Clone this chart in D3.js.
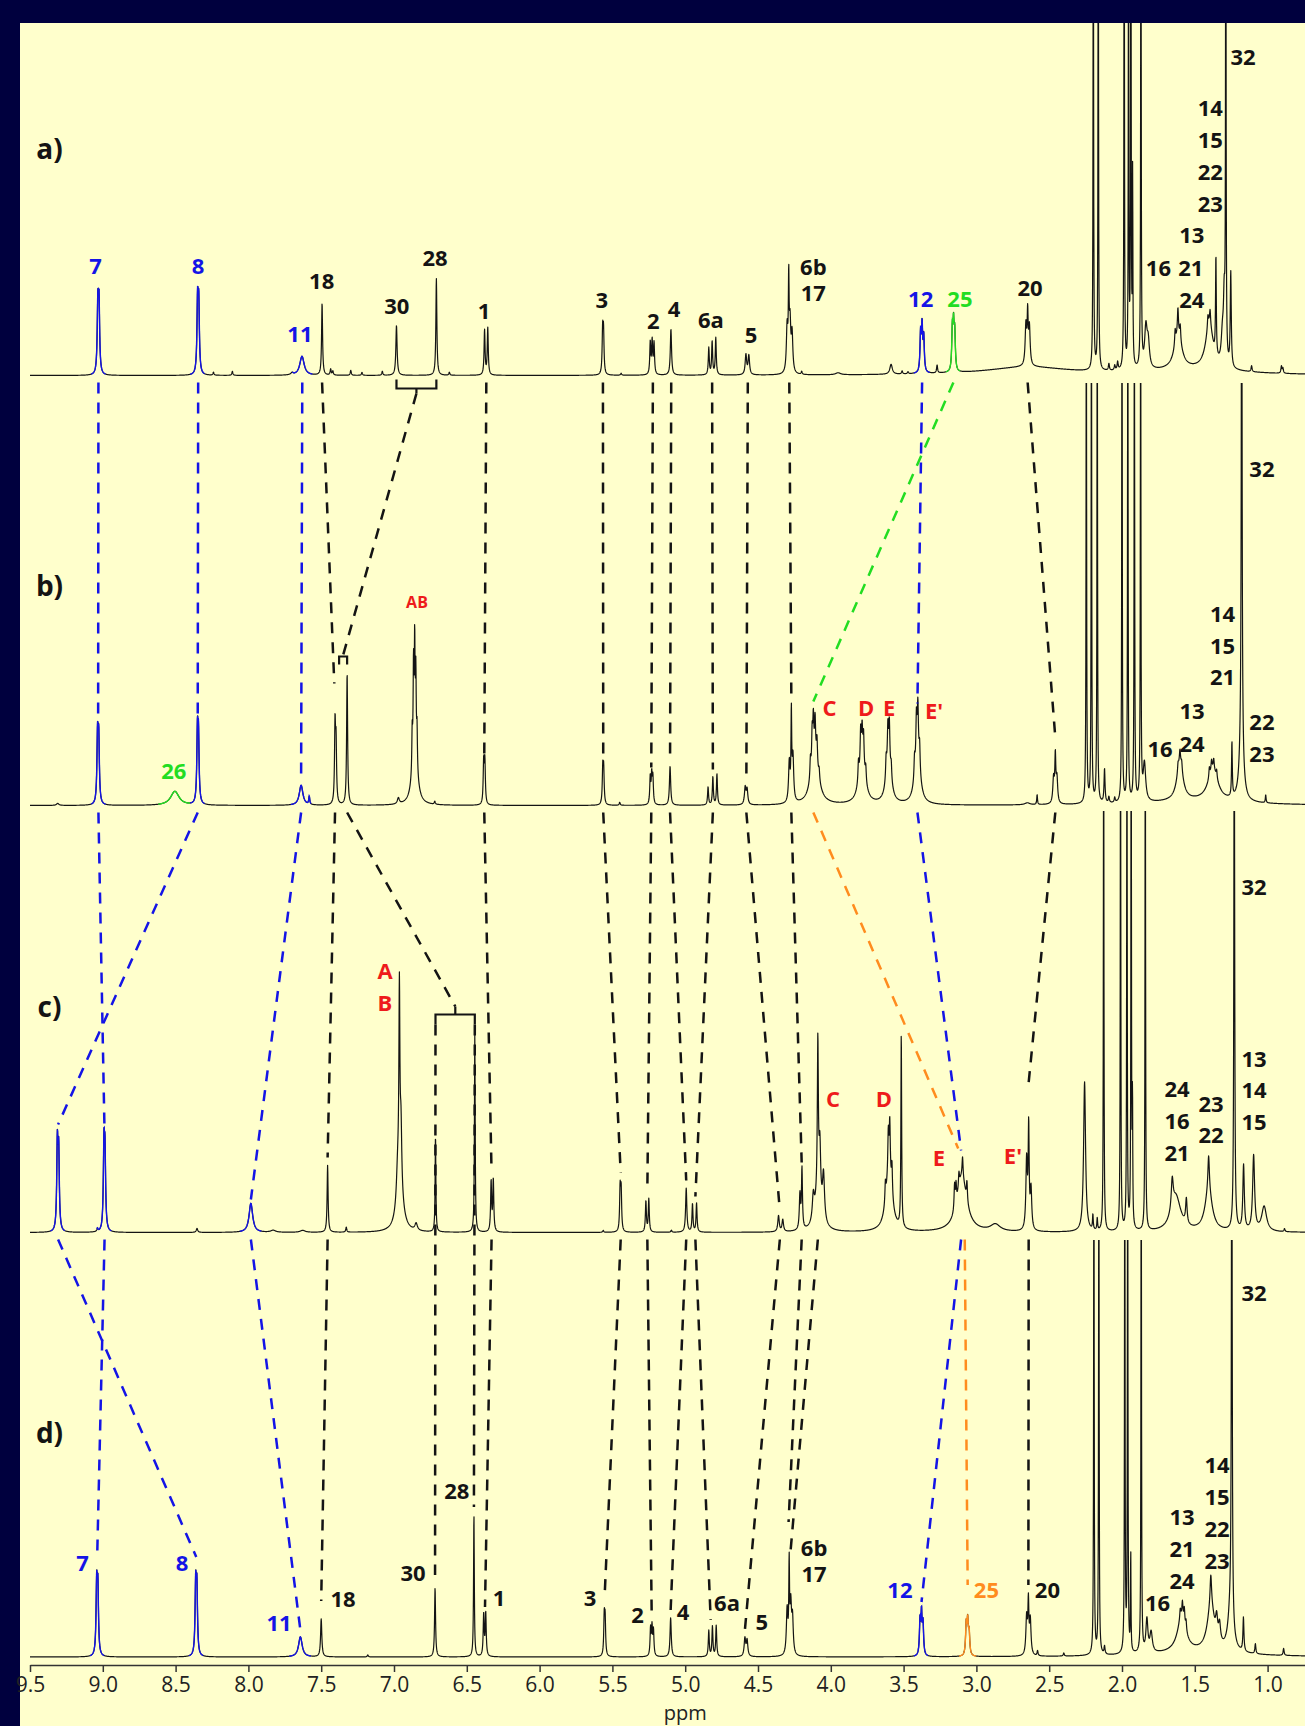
<!DOCTYPE html>
<html>
<head>
<meta charset="utf-8">
<script src="https://cdn.jsdelivr.net/npm/d3@7"></script>
<style>
  body { margin: 0; background: #00003e; }
  svg { display: block; }
  text { font-family: "Open Sans", "DejaVu Sans", sans-serif; }
</style>
</head>
<body>
<svg width="1305" height="1726"></svg>
<script>
// peaks: [ppm, height, half width] (width defaults to 0.004 ppm)
var peaksA = [
  [9.034, 67, .005], [9.026, 67, .005], [8.349, 70, .005], [8.341, 66, .005],
  [8.24, 3], [8.11, 4], [7.70, 2, .01], [7.632, 19, .018], [7.494, 72],
  [7.435, 6], [7.42, 4], [7.297, 5], [7.22, 3], [7.08, 4],
  [6.983, 50, .005], [6.709, 97], [6.62, 3], [6.378, 45], [6.356, 47],
  [5.567, 42], [5.561, 40], [5.44, 2], [5.240, 32], [5.227, 33], [5.214, 31],
  [5.098, 46, .005], [4.838, 27], [4.815, 33], [4.79, 37],
  [4.583, 20, .006], [4.563, 19, .006],
  [4.300, 45, .006], [4.289, 85, .003], [4.280, 48, .006], [4.266, 38, .006],
  [4.20, 3], [3.95, 2, .02], [3.586, 10, .01], [3.51, 3], [3.47, 2],
  [3.383, 40, .005], [3.373, 42], [3.362, 35, .005], [3.27, 8],
  [3.165, 42, .005], [3.157, 38], [3.149, 38, .005],
  [2.65, 8, .35], [2.660, 40, .006], [2.648, 48], [2.636, 38, .006],
  [2.197, 600, .002], [2.163, 600, .002], [2.09, 7], [2.05, 5], [2.03, 8],
  [1.985, 600, .002], [1.955, 500, .002], [1.939, 600, .002], [1.927, 190, .002], [1.870, 600, .002],
  [1.836, 40, .01], [1.82, 25, .01], [1.5, 5, .4],
  [1.615, 35, .03], [1.635, 15], [1.616, 25], [1.60, 15],
  [1.40, 45, .03], [1.41, 12], [1.395, 14], [1.355, 100, .003],
  [1.31, 30, .01], [1.298, 60, .006], [1.287, 600, .002], [1.253, 95],
  [1.11, 6], [0.905, 7], [0.895, 5]
];

var peaksB = [
  [9.31, 2, .01], [9.036, 66, .005], [9.028, 62, .005], [8.505, 14, .035],
  [8.350, 66, .005], [8.343, 62, .005], [7.638, 20, .015], [7.582, 8],
  [7.405, 78], [7.398, 58], [7.322, 132], [6.97, 6, .008],
  [6.858, 55, .02], [6.875, 40, .003], [6.866, 90, .003], [6.858, 105, .003], [6.850, 80, .003], [6.842, 40, .003],
  [6.72, 3], [6.384, 42], [6.376, 42], [5.566, 35], [5.560, 33], [5.45, 3],
  [5.240, 27], [5.230, 28], [5.222, 26], [5.104, 39, .005],
  [4.843, 18], [4.81, 28], [4.782, 31], [4.588, 17, .006], [4.575, 15, .006],
  [4.285, 40, .006], [4.271, 85, .003], [4.26, 45, .006],
  [4.11, 50, .03], [4.14, 20], [4.128, 35], [4.12, 40], [4.108, 35], [4.095, 25], [4.08, 10],
  [3.785, 45, .025], [3.81, 20], [3.795, 35], [3.785, 30], [3.775, 30], [3.76, 15],
  [3.603, 45, .02], [3.62, 20], [3.608, 35], [3.598, 38], [3.585, 15],
  [3.405, 55, .02], [3.425, 20], [3.412, 40], [3.402, 45], [3.39, 25],
  [2.65, 2, .02], [2.583, 10, .003], [2.47, 25, .006], [2.458, 45], [2.447, 25, .006],
  [2.245, 600, .002], [2.21, 600, .002], [2.17, 600, .002], [2.12, 34], [2.09, 6], [2.05, 5],
  [2.00, 600, .002], [1.96, 600, .002], [1.915, 600, .002], [1.872, 600, .002],
  [1.846, 38, .01], [1.5, 4, .4], [1.602, 38, .025], [1.615, 8], [1.602, 12], [1.59, 8],
  [1.375, 32, .04], [1.40, 10], [1.385, 10], [1.37, 10], [1.35, 8],
  [1.245, 55, .003], [1.18, 60, .015], [1.178, 600, .003], [1.013, 8, .003]
];

var peaksC = [
  [9.312, 85, .005], [9.303, 75, .005], [9.037, 3], [8.992, 80, .005], [8.985, 70, .005],
  [8.353, 4, .006], [7.983, 29, .015], [7.83, 2, .02], [7.627, 2, .02],
  [7.456, 67], [7.328, 5],
  [6.96, 45, .025], [6.975, 30, .01], [6.963, 190], [6.952, 60, .006],
  [6.848, 7, .01], [6.715, 97, .003], [6.445, 198, .003], [6.333, 50], [6.318, 52],
  [5.563, 2], [5.447, 42], [5.440, 40], [5.27, 31], [5.25, 33], [5.095, 2],
  [4.993, 44, .005], [4.95, 28], [4.922, 29], [4.359, 16, .006], [4.33, 12, .006],
  [4.212, 35, .005], [4.198, 60],
  [4.085, 40, .025], [4.12, 25, .008], [4.089, 150], [4.075, 50, .006], [4.05, 45, .008],
  [3.60, 60, .025], [3.625, 20], [3.605, 40], [3.595, 50], [3.58, 30], [3.516, 195, .003],
  [3.10, 55, .04], [3.15, 25], [3.14, 20], [3.12, 15], [3.095, 20], [3.065, 20],
  [2.87, 7, .04], [2.655, 70, .006], [2.641, 100], [2.625, 40, .006],
  [2.257, 150, .008], [2.20, 15, .003], [2.17, 12, .003],
  [2.126, 600, .002], [2.01, 600, .002], [1.966, 600, .002], [1.937, 600, .002], [1.928, 125, .002], [1.84, 600, .002],
  [1.63, 35, .04], [1.655, 30, .008], [1.558, 25, .006],
  [1.405, 40, .03], [1.405, 35, .006], [1.229, 600, .003],
  [1.165, 65, .006], [1.096, 75, .008], [1.024, 25, .02], [0.884, 3]
];

var peaksD = [
  [9.042, 68, .005], [9.034, 64, .005], [8.362, 68, .005], [8.354, 64, .005],
  [7.643, 20, .015], [7.5, 38, .005], [7.18, 2], [6.718, 69], [6.451, 143, .003],
  [6.384, 42], [6.370, 43], [5.556, 38], [5.550, 35],
  [5.238, 27], [5.228, 28], [5.218, 25], [5.1, 39, .005],
  [4.838, 26], [4.813, 30], [4.787, 31], [4.59, 18, .006], [4.575, 16, .006],
  [4.30, 45, .006], [4.286, 85, .003], [4.275, 48, .006], [4.263, 35, .006],
  [3.387, 35, .005], [3.377, 38], [3.367, 32, .005],
  [3.07, 30, .005], [3.06, 32, .005], [3.05, 22, .005],
  [2.655, 38, .006], [2.643, 50], [2.63, 35, .006], [2.58, 5], [2.40, 3],
  [2.193, 600, .002], [2.159, 600, .002], [2.12, 8],
  [1.981, 600, .002], [1.961, 600, .002], [1.94, 100, .002], [1.868, 600, .002],
  [1.829, 33, .008], [1.80, 20, .01], [1.5, 4, .4],
  [1.59, 35, .035], [1.6, 10], [1.585, 15], [1.572, 15], [1.56, 10],
  [1.389, 45, .03], [1.39, 30, .006], [1.35, 20, .008], [1.33, 18, .008],
  [1.255, 40, .02], [1.246, 600, .003], [1.166, 34], [1.084, 10], [0.89, 7]
];

// coloured stretches of each trace: [from ppm, to ppm, colour]
var segsA = [[9.08, 8.98, "b"], [8.40, 8.30, "b"], [7.70, 7.56, "b"], [3.43, 3.32, "b"], [3.21, 3.11, "g"]];
var segsB = [[9.08, 8.98, "b"], [8.62, 8.40, "g"], [8.40, 8.30, "b"], [7.71, 7.57, "b"]];
var segsC = [[9.36, 9.26, "b"], [9.04, 8.94, "b"], [8.06, 7.91, "b"]];
var segsD = [[9.09, 8.99, "b"], [8.41, 8.31, "b"], [7.72, 7.57, "b"], [3.43, 3.33, "b"], [3.12, 3.0, "o"]];

// labels: [text, ppm, height above baseline, colour]
var labelsA = [
  ["a)", 9.366, 227, "k"], ["7", 9.05, 109, "b"], ["8", 8.346, 109, "b"], ["11", 7.646, 41, "b"],
  ["18", 7.497, 94, "k"], ["30", 6.981, 69, "k"], ["28", 6.718, 117, "k"], ["1", 6.382, 64, "k"],
  ["3", 5.573, 75, "k"], ["2", 5.219, 54, "k"], ["4", 5.077, 66, "k"], ["6a", 4.823, 55, "k"],
  ["5", 4.548, 40, "k"], ["6b", 4.12, 108, "k"], ["17", 4.12, 82, "k"], ["12", 3.383, 76, "b"],
  ["25", 3.113, 76, "g"], ["20", 2.632, 87, "k"], ["32", 1.169, 318, "k"],
  ["14", 1.393, 267, "k"], ["15", 1.393, 235, "k"], ["22", 1.393, 203, "k"], ["23", 1.393, 171, "k"],
  ["13", 1.521, 140, "k"], ["16", 1.75, 107, "k"], ["21", 1.528, 107, "k"], ["24", 1.521, 75, "k"]
];
var labelsB = [
  ["b)", 9.366, 220, "k"], ["26", 8.512, 34, "g"], ["C", 4.009, 97, "r"], ["D", 3.758, 97, "r"],
  ["E", 3.6, 97, "r"], ["E'", 3.291, 94, "r"], ["32", 1.039, 336, "k"],
  ["14", 1.31, 191, "k"], ["15", 1.31, 159, "k"], ["21", 1.31, 128, "k"], ["13", 1.519, 94, "k"],
  ["22", 1.039, 83, "k"], ["16", 1.739, 56, "k"], ["24", 1.519, 61, "k"], ["23", 1.039, 51, "k"]
];
var labelsC = [
  ["c)", 9.366, 226, "k"], ["A", 7.062, 261, "r"], ["B", 7.062, 229, "r"], ["C", 3.985, 133, "r"],
  ["D", 3.636, 133, "r"], ["E", 3.257, 74, "r"], ["E'", 2.749, 76, "r"], ["32", 1.093, 345, "k"],
  ["13", 1.093, 173, "k"], ["14", 1.093, 142, "k"], ["15", 1.093, 110, "k"],
  ["24", 1.622, 143, "k"], ["16", 1.622, 111, "k"], ["21", 1.622, 79, "k"],
  ["23", 1.389, 128, "k"], ["22", 1.389, 97, "k"]
];
var labelsD = [
  ["d)", 9.366, 224, "k"], ["7", 9.139, 94, "b"], ["8", 8.456, 94, "b"], ["11", 7.79, 34, "b"],
  ["18", 7.35, 58, "k"], ["30", 6.869, 84, "k"], ["28", 6.569, 166, "k"], ["1", 6.279, 59, "k"],
  ["3", 5.654, 59, "k"], ["2", 5.328, 42, "k"], ["4", 5.015, 45, "k"], ["6a", 4.713, 54, "k"],
  ["5", 4.474, 35, "k"], ["6b", 4.115, 109, "k"], ["17", 4.115, 83, "k"], ["12", 3.525, 67, "b"],
  ["25", 2.931, 67, "o"], ["20", 2.512, 67, "k"], ["32", 1.093, 364, "k"],
  ["14", 1.347, 192, "k"], ["15", 1.347, 160, "k"], ["22", 1.347, 128, "k"], ["23", 1.347, 96, "k"],
  ["13", 1.588, 140, "k"], ["21", 1.588, 108, "k"], ["24", 1.588, 76, "k"], ["16", 1.756, 54, "k"]
];

// dashed assignment links: [ppm, panel, height, ppm, panel, height, colour]
var links = [
  [9.03, "a", -7, 9.032, "b", 88, "b"], [8.345, "a", -7, 8.348, "b", 86, "b"],
  [7.63, "a", -7, 7.638, "b", 25, "b"], [3.373, "a", -7, 3.405, "b", 102, "b"],
  [3.158, "a", -7, 4.12, "b", 104, "g"], [7.494, "a", -7, 7.41, "b", 122, "k"],
  [6.846, "a", -18, 7.35, "b", 150, "k"], [6.366, "a", -7, 6.38, "b", 52, "k"],
  [5.565, "a", -7, 5.563, "b", 52, "k"], [5.222, "a", -7, 5.233, "b", 38, "k"],
  [5.096, "a", -7, 5.104, "b", 45, "k"], [4.815, "a", -7, 4.81, "b", 36, "k"],
  [4.57, "a", -7, 4.58, "b", 24, "k"], [4.285, "a", -7, 4.271, "b", 106, "k"],
  [2.648, "a", -7, 2.458, "b", 68, "k"],

  [9.03, "b", -7, 8.988, "c", 100, "b"], [8.348, "b", -7, 9.307, "c", 108, "b"],
  [7.638, "b", -7, 7.983, "c", 33, "b"], [3.405, "b", -7, 3.105, "c", 82, "b"],
  [4.12, "b", -7, 3.125, "c", 84, "o"], [7.405, "b", -7, 7.456, "c", 75, "k"],
  [7.322, "b", -7, 6.579, "c", 226, "k"], [6.38, "b", -7, 6.33, "c", 60, "k"],
  [5.563, "b", -7, 5.443, "c", 60, "k"], [5.233, "b", -7, 5.26, "c", 42, "k"],
  [5.104, "b", -7, 4.993, "c", 52, "k"], [4.81, "b", -7, 4.93, "c", 36, "k"],
  [4.58, "b", -7, 4.35, "c", 22, "k"], [4.271, "b", -7, 4.20, "c", 70, "k"],
  [2.458, "b", -7, 2.641, "c", 150, "k"],

  [6.715, "c", 208, 6.718, "d", 82, "k"], [6.445, "c", 208, 6.451, "d", 150, "k"],

  [9.307, "c", -7, 8.358, "d", 100, "b"], [8.988, "c", -7, 9.038, "d", 104, "b"],
  [7.983, "c", -7, 7.643, "d", 27, "b"], [3.105, "c", -7, 3.377, "d", 55, "b"],
  [3.08, "c", -7, 3.06, "d", 72, "o"], [7.456, "c", -7, 7.5, "d", 56, "k"],
  [6.33, "c", -7, 6.375, "d", 50, "k"], [5.443, "c", -7, 5.553, "d", 62, "k"],
  [5.26, "c", -7, 5.23, "d", 40, "k"], [4.993, "c", -7, 5.1, "d", 47, "k"],
  [4.93, "c", -7, 4.825, "d", 37, "k"], [4.35, "c", -7, 4.59, "d", 27, "k"],
  [4.20, "c", -7, 4.29, "d", 135, "k"], [4.089, "c", -7, 4.28, "d", 100, "k"],
  [2.641, "c", -7, 2.643, "d", 72, "k"]
];

// brackets: [panel, ppm left, ppm right, bar height, leg end height, nub ppm, nub end height]
var brackets = [
  ["a", 6.983, 6.709, -13, -4, 6.846, -18],
  ["b", 7.377, 7.322, 149, 141, 7.35, 149],
  ["c", 6.715, 6.445, 218, 208, 6.579, 226]
];

var majorTicks = [9.5, 9.0, 8.5, 8.0, 7.5, 7.0, 6.5, 6.0, 5.5, 5.0, 4.5, 4.0, 3.5, 3.0, 2.5, 2.0, 1.5, 1.0];
var minorTicks = [9.25, 8.75, 8.25, 7.75, 7.25, 6.75, 6.25, 5.75, 5.25, 4.75, 4.25, 3.75, 3.25, 2.75, 2.25, 1.75, 1.25, 0.75];

var svg = d3.select("svg"),
  width = +svg.attr("width"),
  height = +svg.attr("height");

var colors = { k: "#141414", b: "#1414e6", g: "#22dd22", o: "#ff8c1e", r: "#ee1b1b" };

var x = d3.scaleLinear().domain([9.5, 1.0]).range([30, 1267.6]);
var xAxisScale = x.copy().domain([9.5, x.invert(width)]).range([30, width]);

var panels = [
  { id: "a", base: 375.5, top: 23, peaks: peaksA, segs: segsA, labels: labelsA },
  { id: "b", base: 805.5, top: 383, peaks: peaksB, segs: segsB, labels: labelsB },
  { id: "c", base: 1232.5, top: 811, peaks: peaksC, segs: segsC, labels: labelsC },
  { id: "d", base: 1657, top: 1240, peaks: peaksD, segs: segsD, labels: labelsD }
];
var byId = {};
panels.forEach(function(p) {
  p.y = d3.scaleLinear().domain([0, 100]).range([p.base, p.base - 100]);
  byId[p.id] = p;
});

// yellow plate
svg.append("rect").attr("width", width).attr("height", height).attr("fill", "#00003e");
svg.append("rect")
  .attr("x", 20).attr("y", 23)
  .attr("width", width - 20).attr("height", height - 23)
  .attr("fill", "#ffffcc");

function intensity(peaks, ppm) {
  var s = 0;
  for (var i = 0; i < peaks.length; i++) {
    var p = peaks[i];
    var d = (ppm - p[0]) / (p[2] || 0.004);
    s += p[1] / (1 + d * d);
  }
  return s;
}

var grid = d3.range(30, width + 0.1, 0.2).map(function(px) { return x.invert(px); });

var defs = svg.append("defs");

panels.forEach(function(p) {
  defs.append("clipPath").attr("id", "clip-" + p.id)
    .append("rect")
    .attr("x", 30).attr("y", p.top)
    .attr("width", width - 30).attr("height", p.base - p.top + 10);

  var pts = grid.map(function(v) { return [v, intensity(p.peaks, v)]; });
  var line = d3.line()
    .x(function(d) { return x(d[0]); })
    .y(function(d) { return p.y(d[1]); });

  var g = svg.append("g").attr("clip-path", "url(#clip-" + p.id + ")");
  g.append("path")
    .attr("d", line(pts))
    .attr("fill", "none")
    .attr("stroke", colors.k)
    .attr("stroke-width", 1.2)
    .attr("stroke-linejoin", "round");

  p.segs.forEach(function(s) {
    var part = pts.filter(function(d) { return d[0] <= s[0] && d[0] >= s[1]; });
    g.append("path")
      .attr("d", line(part))
      .attr("fill", "none")
      .attr("stroke", colors[s[2]])
      .attr("stroke-width", 1.4);
  });
});

// assignment links
svg.append("g")
  .selectAll("line")
  .data(links)
  .enter()
  .append("line")
  .attr("x1", function(d) { return x(d[0]); })
  .attr("y1", function(d) { return byId[d[1]].y(d[2]); })
  .attr("x2", function(d) { return x(d[3]); })
  .attr("y2", function(d) { return byId[d[4]].y(d[5]); })
  .attr("stroke", function(d) { return colors[d[6]]; })
  .attr("stroke-width", 2.5)
  .attr("stroke-dasharray", "11,9");

brackets.forEach(function(b) {
  var y = byId[b[0]].y;
  var path = d3.path();
  path.moveTo(x(b[1]), y(b[4]));
  path.lineTo(x(b[1]), y(b[3]));
  path.lineTo(x(b[2]), y(b[3]));
  path.lineTo(x(b[2]), y(b[4]));
  path.moveTo(x(b[5]), y(b[3]));
  path.lineTo(x(b[5]), y(b[6]));
  svg.append("path")
    .attr("d", path.toString())
    .attr("fill", "none")
    .attr("stroke", colors.k)
    .attr("stroke-width", 2.2);
});

// peak labels
panels.forEach(function(p) {
  svg.append("g")
    .selectAll("text")
    .data(p.labels)
    .enter()
    .append("text")
    .attr("x", function(d) { return x(d[1]); })
    .attr("y", function(d) { return p.y(d[2]); })
    .attr("dy", "0.36em")
    .attr("text-anchor", "middle")
    .attr("font-weight", "bold")
    .attr("font-size", function(d) { return d[0].indexOf(")") > 0 ? 28 : 22; })
    .attr("fill", function(d) { return colors[d[3]]; })
    .text(function(d) { return d[0]; });
});

svg.append("text")
  .attr("x", x(6.842))
  .attr("y", byId.b.y(203))
  .attr("dy", "0.36em")
  .attr("text-anchor", "middle")
  .attr("font-weight", "bold")
  .attr("font-size", 16)
  .attr("fill", colors.r)
  .text("AB");

// ppm axis
var axisG = svg.append("g").attr("transform", "translate(0,1665)");
axisG.call(
  d3.axisBottom(xAxisScale)
    .tickValues(minorTicks)
    .tickSize(4)
    .tickSizeOuter(0)
    .tickFormat("")
);
axisG.call(
  d3.axisBottom(xAxisScale)
    .tickValues(majorTicks)
    .tickSize(7)
    .tickSizeOuter(0)
    .tickPadding(5)
    .tickFormat(d3.format(".1f"))
);
axisG.selectAll("path, line").attr("stroke", "#333").attr("stroke-width", 1.5);
axisG.selectAll("text")
  .attr("font-size", 21)
  .attr("font-family", "Open Sans, sans-serif")
  .attr("fill", "#222");

svg.append("text")
  .attr("x", x(5.0))
  .attr("y", 1720)
  .attr("text-anchor", "middle")
  .attr("font-size", 20)
  .attr("fill", "#222")
  .text("ppm");
</script>
</body>
</html>
